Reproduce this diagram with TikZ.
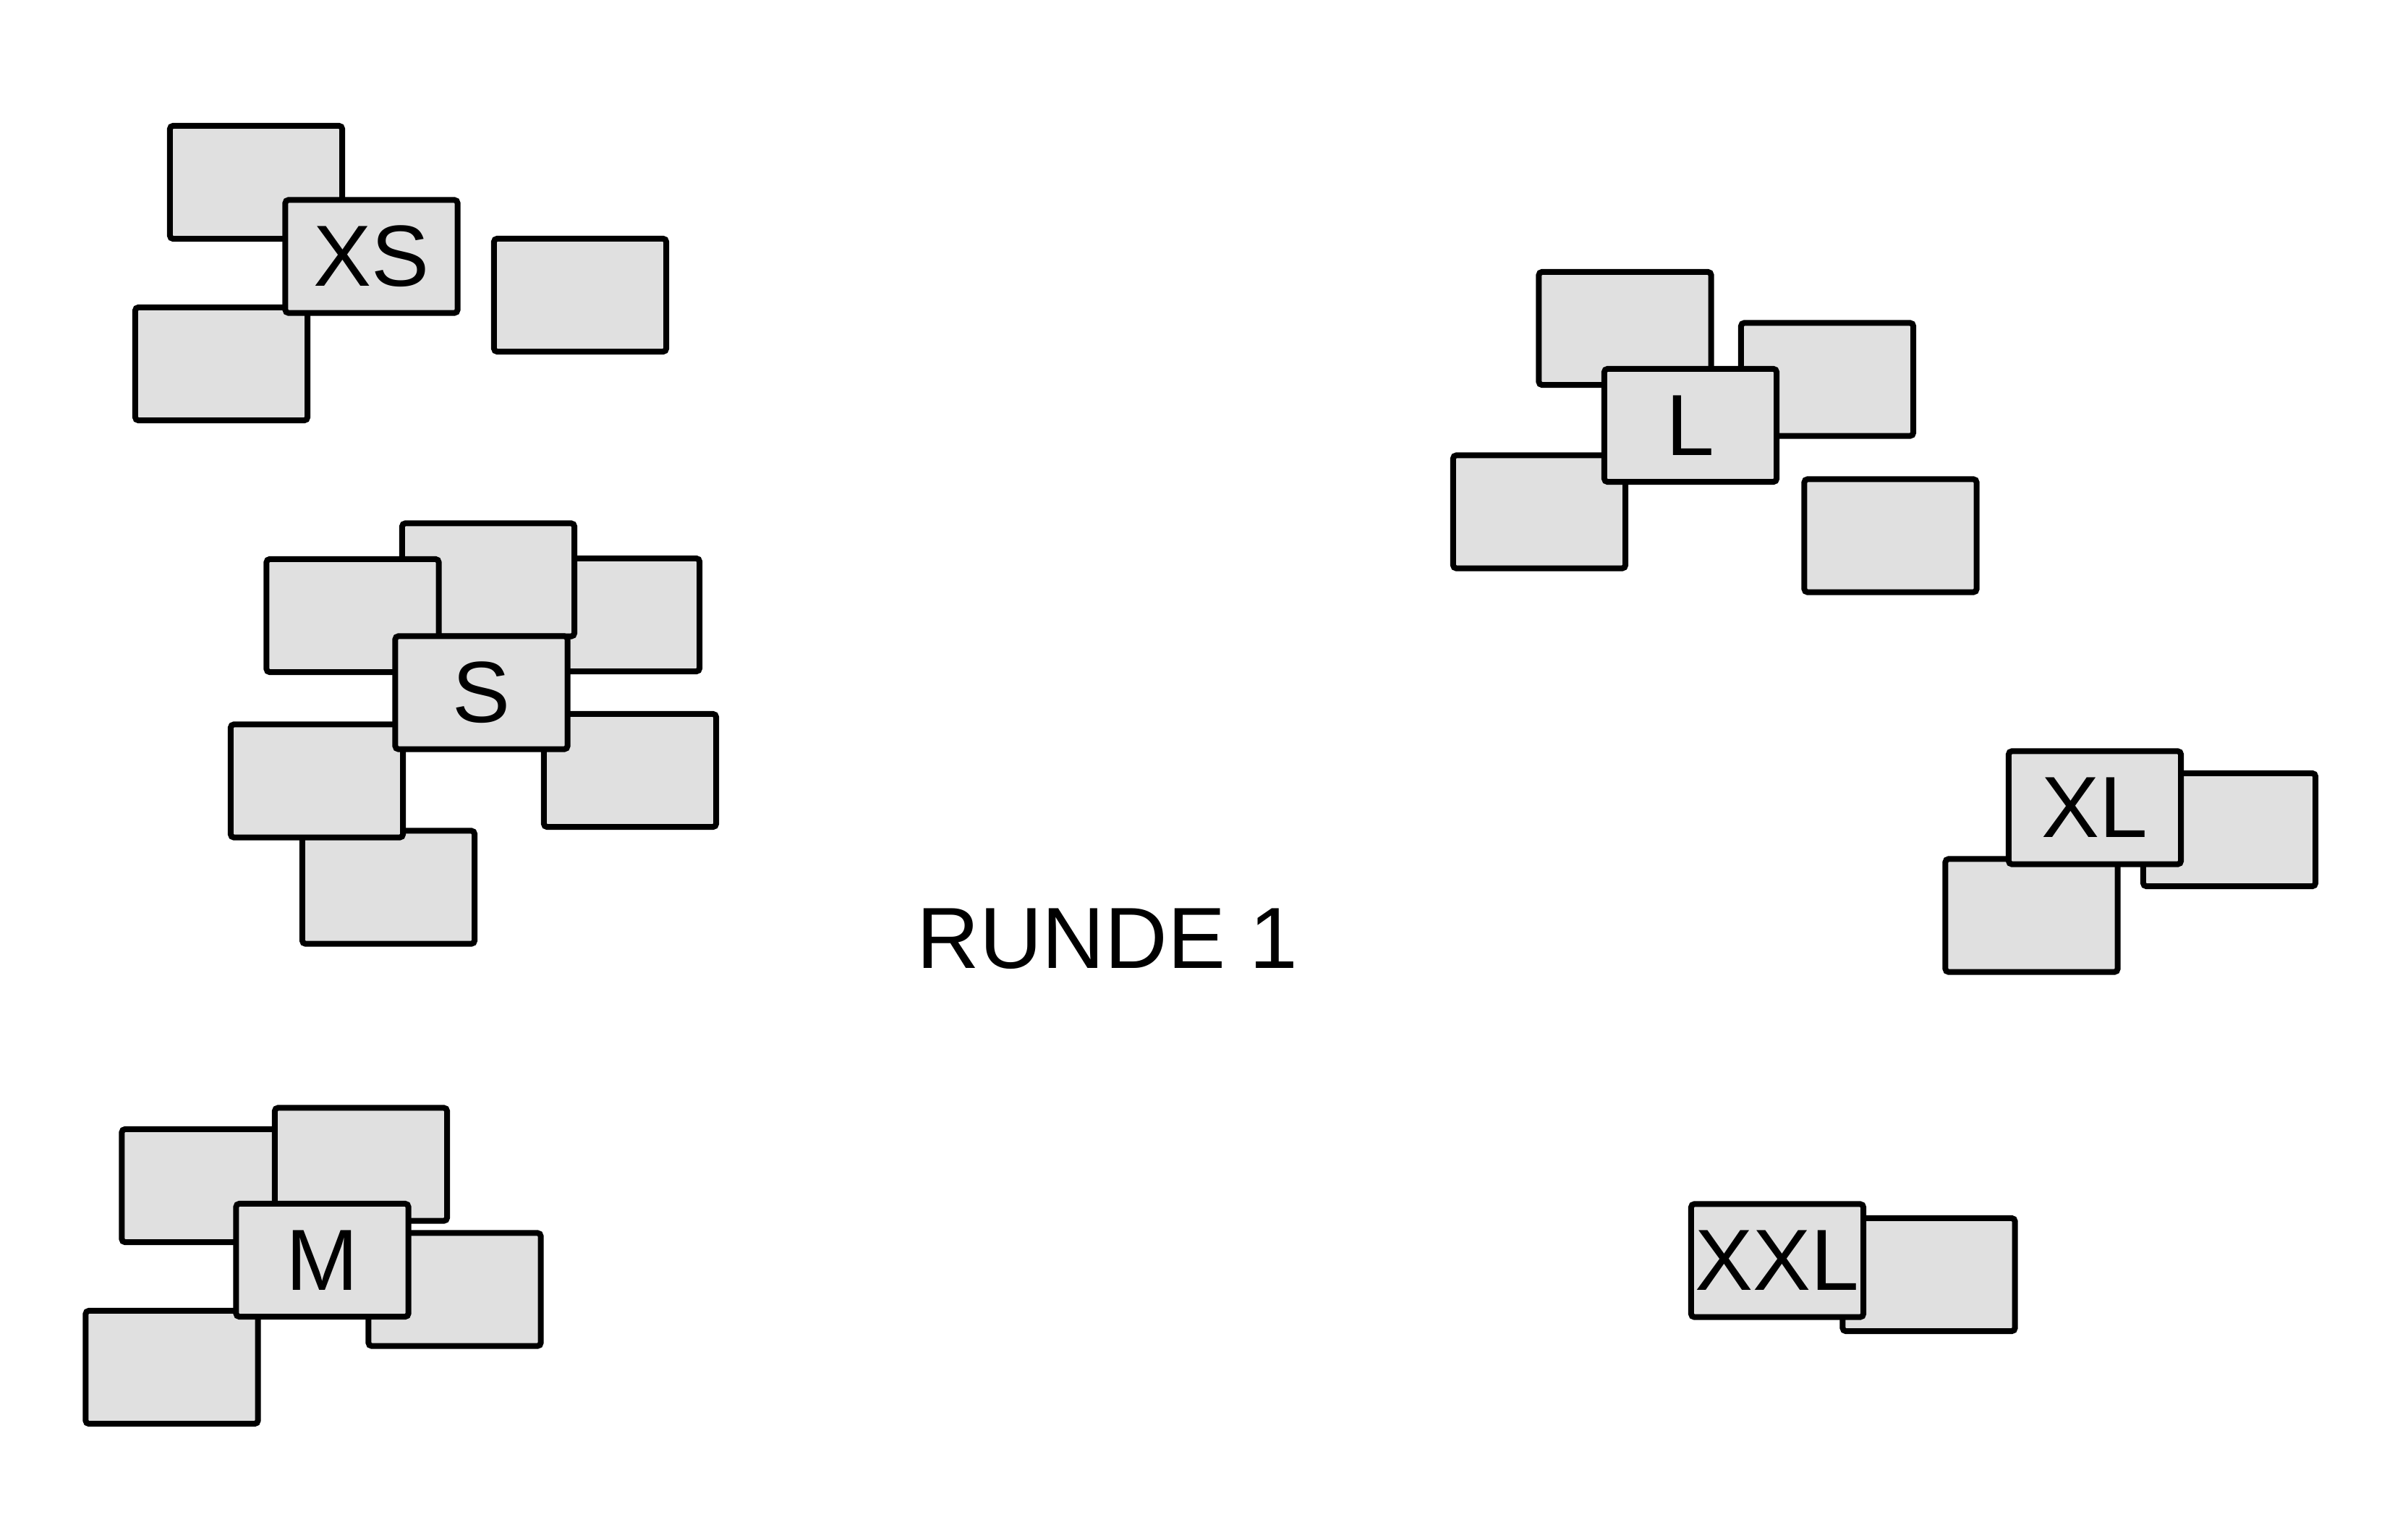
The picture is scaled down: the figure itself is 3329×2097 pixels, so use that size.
\documentclass[tikz,border=0pt]{standalone}
\usepackage{fontspec}
\newfontfamily\handfont{Liberation Sans}
\definecolor{boxfill}{RGB}{224,224,224}
\begin{document}
\begin{tikzpicture}[x=0.25pt,y=-0.25pt,
  card/.style={draw=black, fill=boxfill, line width=2pt, rounded corners=1.2pt,
    minimum width=59.6pt, minimum height=39.1pt, inner sep=0pt, outer sep=0pt,
    font=\handfont\fontsize{30}{30}\selectfont},
  title/.style={font=\handfont\fontsize{30}{30}\selectfont, inner sep=0pt}]
\useasboundingbox (0,0) rectangle (3329,2097);
% XS group
\node[card] (xs1) at (354,252) {};
\node[card] (xs2) at (306,503) {};
\node[card] (xs3) at (802,408) {};
\node[card] (xs) at (513.5,354.5) {XS};
% S group
\node[card] (s1) at (848,850) {};
\node[card] (s2) at (675,801.5) {};
\node[card] (s3) at (487.5,851) {};
\node[card] (s4) at (871,1065) {};
\node[card] (s5) at (537,1226.5) {};
\node[card] (s6) at (438,1079.5) {};
\node[card] (s) at (665.5,957.5) {S};
% M group
\node[card] (m1) at (287.5,1639) {};
\node[card] (m2) at (499,1609.5) {};
\node[card] (m3) at (628.5,1782.5) {};
\node[card] (m4) at (237.5,1890) {};
\node[card] (m) at (445.5,1742) {M};
% L group
\node[card] (l1) at (2246.5,454) {};
\node[card] (l2) at (2526,524.5) {};
\node[card] (l3) at (2128,707.5) {};
\node[card] (l4) at (2613.5,740.5) {};
\node[card] (l) at (2337,588) {L};
% XL group
\node[card] (xl1) at (3082,1147) {};
\node[card] (xl2) at (2808.5,1265.5) {};
\node[card] (xl) at (2896,1116.5) {XL};
% XXL group
\node[card] (xxl1) at (2666.5,1762) {};
\node[card] (xxl) at (2457,1742.5) {XXL};
% title
\node[title] (runde) at (1531,1298) {RUNDE 1};
\end{tikzpicture}
\end{document}
